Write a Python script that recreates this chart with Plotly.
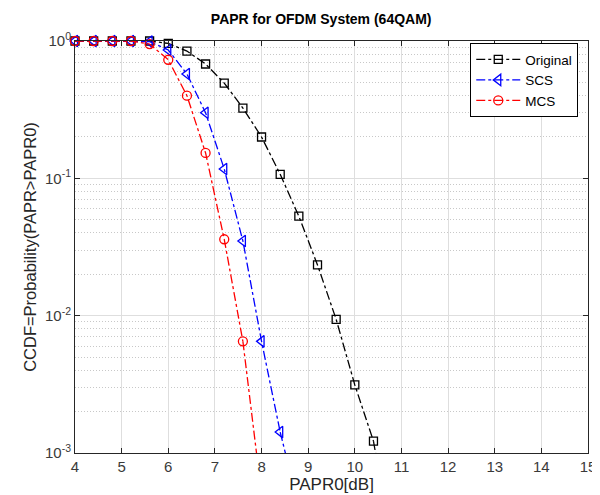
import plotly.graph_objects as go

x_orig = [4.0, 4.4, 4.8, 5.2, 5.6, 6.0, 6.4, 6.8, 7.2, 7.6, 8.0, 8.4, 8.8, 9.2, 9.6, 10.0, 10.4, 10.8]
y_orig = [1.0, 1.0, 1.0, 1.0, 1.0, 0.96, 0.845, 0.68, 0.494, 0.325, 0.20, 0.107, 0.053, 0.0234, 0.0094, 0.00313, 0.00122, 0.0002]

x_scs = [4.0, 4.4, 4.8, 5.2, 5.6, 6.0, 6.4, 6.8, 7.2, 7.6, 8.0, 8.4, 8.8]
y_scs = [1.0, 1.0, 1.0, 1.0, 0.99, 0.86, 0.575, 0.30, 0.117, 0.035, 0.0065, 0.00142, 0.0004]

x_mcs = [4.0, 4.4, 4.8, 5.2, 5.6, 6.0, 6.4, 6.8, 7.2, 7.6, 8.0]
y_mcs = [1.0, 1.0, 1.0, 1.0, 0.95, 0.73, 0.40, 0.153, 0.036, 0.0065, 0.0005]

x_ticks = list(range(4, 16))
y_tickvals = [1, 0.1, 0.01, 0.001]
y_ticktext = ["10<sup>0</sup>", "10<sup>-1</sup>", "10<sup>-2</sup>", "10<sup>-3</sup>"]

Y_MIN = 1e-3
FONT = "Liberation Sans, Arial, sans-serif"

series = [
    ("Original", x_orig, y_orig, "black", "square-open", 8),
    ("SCS", x_scs, y_scs, "#0000ff", "triangle-left-open", 10),
    ("MCS", x_mcs, y_mcs, "#ff0000", "circle-open", 9),
]

fig = go.Figure()
for name, xs, ys, col, sym, sz in series:
    inside = [(a, b) for a, b in zip(xs, ys) if b >= Y_MIN]
    xi = [p[0] for p in inside]
    yi = [p[1] for p in inside]
    n = len(inside)
    # tail segment running off the bottom of the axes (clipped)
    if n < len(xs):
        fig.add_trace(go.Scatter(x=xs[n - 1:], y=ys[n - 1:], mode="lines", showlegend=False,
                                 hoverinfo="skip",
                                 line=dict(color=col, dash="dashdot", width=1.3)))
    fig.add_trace(go.Scatter(x=xi, y=yi, name=name, mode="lines+markers", cliponaxis=False,
                             line=dict(color=col, dash="dashdot", width=1.3),
                             marker=dict(symbol=sym, size=sz, color=col, line=dict(width=1.3, color=col))))

fig.update_layout(
    width=600, height=495,
    margin=dict(l=67, r=12, t=33, b=50),
    paper_bgcolor="white", plot_bgcolor="white",
    font=dict(family=FONT, size=14, color="#262626"),
    title=dict(text="<b>PAPR for OFDM System (64QAM)</b>", x=0.522, xanchor="center",
               y=0.978, yanchor="middle", font=dict(size=14, color="black")),
    legend=dict(x=0.981, y=0.995, xanchor="right", yanchor="top",
                bordercolor="black", borderwidth=1, bgcolor="white", itemwidth=44,
                font=dict(size=13.5, color="black"), tracegroupgap=0),
    showlegend=True,
)
fig.update_xaxes(range=[4, 15], tickvals=x_ticks, showgrid=True, gridcolor="#dedede",
                 showline=True, linecolor="#262626", linewidth=1, mirror="ticks",
                 ticks="inside", ticklen=5, tickcolor="#262626", zeroline=False,
                 tickfont=dict(size=15, color="#3a3a3a"),
                 title=dict(text="PAPR0[dB]", font=dict(size=17), standoff=2))
fig.update_yaxes(type="log", range=[-3, 0], tickvals=y_tickvals, ticktext=y_ticktext,
                 showgrid=True, gridcolor="#dedede",
                 showline=True, linecolor="#262626", linewidth=1, mirror="ticks",
                 ticks="inside", ticklen=5, tickcolor="#262626", zeroline=False,
                 tickfont=dict(size=15, color="#3a3a3a"),
                 minor=dict(showgrid=True, gridcolor="#c8c8c8", griddash="1px,2px", dtick="D1", ticks=""),
                 title=dict(text="CCDF=Probability(PAPR>PAPR0)", font=dict(size=16.5), standoff=4))

fig.write_html("out.html")
